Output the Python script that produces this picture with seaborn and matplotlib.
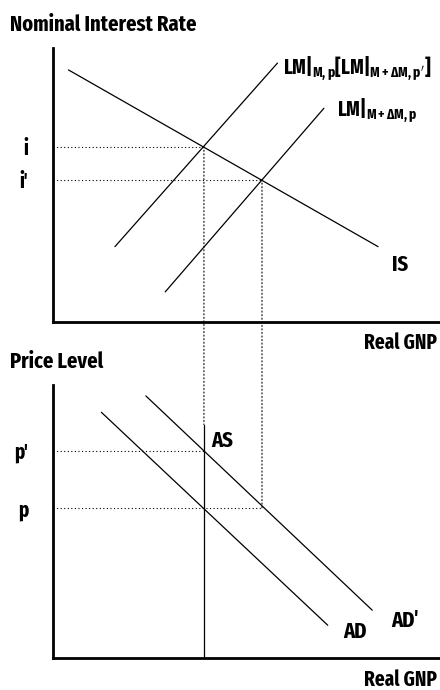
import matplotlib
matplotlib.use("Agg")
import matplotlib.pyplot as plt
import seaborn as sns
import pandas as pd
from matplotlib.patches import ConnectionPatch

# ---- data (economic units, 0-10 scale) ----
is_x = [0.4, 8.4]
is_y = [9.2, 2.75]
lm1_x = [1.6, 5.8]
lm1_y = [2.75, 9.45]
lm2_x = [2.9, 7.0]
lm2_y = [1.1, 7.8]
i_levels = [6.4, 5.2]
i_labels = ["i", "i\u2032"]
gnp_levels = [3.9, 5.4]

ad_x = [1.25, 7.1]
ad_y = [9.0, 1.2]
ad2_x = [2.4, 8.25]
ad2_y = [9.6, 1.75]
as_x = [3.9, 3.9]
as_y = [0.0, 8.55]
p_levels = [5.5, 7.6]
p_labels = ["p", "p\u2032"]

sns.set_style("white")
FN = "Fira Sans Extra Condensed"
FONT = [FN, "Roboto Condensed", "DejaVu Sans"]
plt.rcParams["font.family"] = FONT
plt.rcParams["font.weight"] = "bold"
plt.rcParams["text.color"] = "black"
plt.rcParams["ytick.color"] = "black"
plt.rcParams["mathtext.fontset"] = "custom"
for k in ("rm", "it", "bf", "sf"):
    plt.rcParams["mathtext." + k] = FN + ":bold"

fig = plt.figure(figsize=(4.4, 6.9), dpi=100)
W, H = 440, 690
ax1 = fig.add_axes([53 / W, 1 - 322 / H, (W - 53) / W, 274 / H])
ax2 = fig.add_axes([53 / W, 1 - 658 / H, (W - 53) / W, 273 / H])

line_kw = dict(color="black", linewidth=0.9, estimator=None, legend=False)

def curve(ax, xs, ys):
    sns.lineplot(data=pd.DataFrame({"x": xs, "y": ys}), x="x", y="y", ax=ax, **line_kw)

curve(ax1, is_x, is_y)
curve(ax1, lm1_x, lm1_y)
curve(ax1, lm2_x, lm2_y)
curve(ax2, ad_x, ad_y)
curve(ax2, ad2_x, ad2_y)
curve(ax2, as_x, as_y)

dot = dict(color="black", linewidth=0.8, linestyle=(0, (1, 2.2)))
for g, iv in zip(gnp_levels, i_levels):
    ax1.plot([0, g], [iv, iv], **dot)
ax2.plot([0, gnp_levels[1]], [p_levels[0], p_levels[0]], **dot)
ax2.plot([0, gnp_levels[0]], [p_levels[1], p_levels[1]], **dot)

# vertical dotted lines crossing panels
con1 = ConnectionPatch(xyA=(gnp_levels[0], i_levels[0]), coordsA=ax1.transData,
                       xyB=(gnp_levels[0], as_y[1]), coordsB=ax2.transData, **dot)
con2 = ConnectionPatch(xyA=(gnp_levels[1], i_levels[1]), coordsA=ax1.transData,
                       xyB=(gnp_levels[1], p_levels[0]), coordsB=ax2.transData, **dot)
fig.add_artist(con1)
fig.add_artist(con2)

for ax in (ax1, ax2):
    ax.set_xlim(0, 10)
    ax.set_ylim(0, 10)
    ax.set_xlabel("")
    ax.set_ylabel("")
    ax.set_xticks([])
    for s in ("top", "right"):
        ax.spines[s].set_visible(False)
    for s in ("left", "bottom"):
        ax.spines[s].set_linewidth(2.0)
        ax.spines[s].set_color("black")
    ax.tick_params(axis="y", length=0, pad=18, labelsize=15, labelcolor="black")
    ax.patch.set_alpha(0)

ax1.set_yticks(i_levels, i_labels)
ax2.set_yticks(p_levels, p_labels)
for ax in (ax1, ax2):
    for t in ax.get_yticklabels():
        t.set_fontweight("bold")

tk = dict(fontsize=16, fontweight="bold", color="black")
lk = dict(fontsize=15, fontweight="bold", color="black")
ax1.text(5.95, 9.25, r"LM$|_{M,p}$[LM$|_{M+\Delta M,p'}$]", ha="left", va="center", **lk)
ax1.text(7.35, 7.7, r"LM$|_{M+\Delta M,p}$", ha="left", va="center", **lk)
ax1.text(8.75, 2.1, "IS", ha="left", va="center", **tk)
ax2.text(4.1, 7.95, "AS", ha="left", va="center", **tk)
ax2.text(7.5, 0.95, "AD", ha="left", va="center", **tk)
ax2.text(8.75, 1.35, "AD\u2032", ha="left", va="center", **tk)

fig.text(10 / W, 1 - 25 / H, "Nominal Interest Rate", fontsize=16, fontweight="bold", va="center", ha="left")
fig.text(10 / W, 1 - 362 / H, "Price Level", fontsize=16, fontweight="bold", va="center", ha="left")
fig.text(437 / W, 1 - 343 / H, "Real GNP", fontsize=15, fontweight="bold", va="center", ha="right")
fig.text(437 / W, 1 - 680 / H, "Real GNP", fontsize=15, fontweight="bold", va="center", ha="right")

fig.savefig("out.png", dpi=100, facecolor="white")
